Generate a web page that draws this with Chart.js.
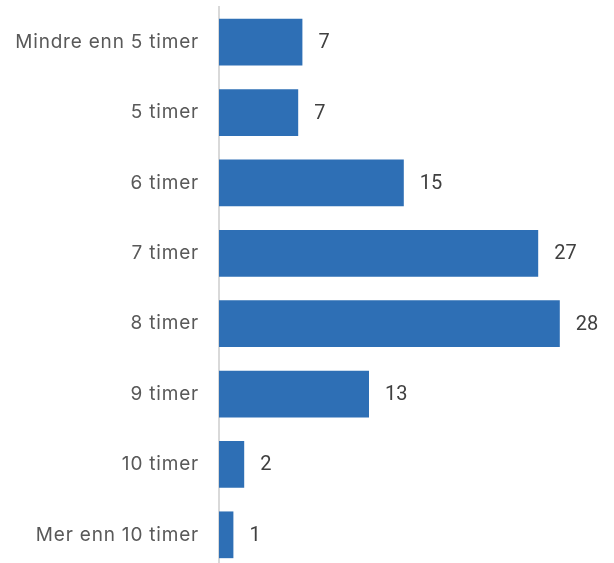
<!DOCTYPE html>
<html>
<head>
<meta charset="utf-8">
<script src="https://cdn.jsdelivr.net/npm/chart.js@4"></script>
<style>
  html, body { margin: 0; padding: 0; background: #fff; overflow: hidden; }
  #wrap { width: 614px; height: 563px; overflow: hidden; }
</style>
</head>
<body>
<div id="wrap">
  <canvas id="hoursChart" width="614" height="570"></canvas>
</div>
<script>
// kategorier og verdier (prosent)
const categories = ["Mindre enn 5 timer", "5 timer", "6 timer", "7 timer", "8 timer", "9 timer", "10 timer", "Mer enn 10 timer"];
const values = [6.95, 6.6, 15.4, 26.6, 28.4, 12.5, 2.1, 1.2];

// litt luft mellom bokstavene i aksetekstene
const spacing = {
  id: 'spacing',
  beforeDraw(chart) {
    chart.ctx.letterSpacing = '0.8px';
  }
};

// enkel plugin for verdietiketter bak søylene
const valueLabels = {
  id: 'valueLabels',
  afterDatasetsDraw(chart) {
    const ctx = chart.ctx;
    const meta = chart.getDatasetMeta(0);
    ctx.save();
    ctx.letterSpacing = '0px';
    ctx.font = '20px Roboto';
    ctx.fillStyle = '#404040';
    ctx.textAlign = 'left';
    ctx.textBaseline = 'middle';
    meta.data.forEach((bar, i) => {
      ctx.fillText(Math.round(values[i]), bar.x + 16, bar.y + 1);
    });
    ctx.restore();
  }
};

new Chart(document.getElementById("hoursChart"), {
  type: 'bar',
  data: {
    labels: categories,
    datasets: [{
      data: values,
      backgroundColor: '#2e6fb5',
      borderWidth: 0,
      categoryPercentage: 1,
      barPercentage: 0.664
    }]
  },
  options: {
    indexAxis: 'y',
    responsive: false,
    animation: false,
    layout: { padding: { top: 7, right: 11, bottom: 0, left: 0 } },
    plugins: {
      legend: { display: false },
      tooltip: { enabled: false }
    },
    scales: {
      x: { display: false, min: 0, max: 32 },
      y: {
        afterFit(scale) {
          scale.width = 219;
          scale.paddingTop = 0;
          scale.paddingBottom = 0;
        },
        grid: { display: false, drawTicks: false },
        border: { display: true, color: '#d9d9d9', width: 2 },
        ticks: {
          padding: 20,
          color: '#595959',
          font: { family: 'Inter', size: 19 }
        }
      }
    }
  },
  plugins: [spacing, valueLabels]
});
</script>
</body>
</html>
